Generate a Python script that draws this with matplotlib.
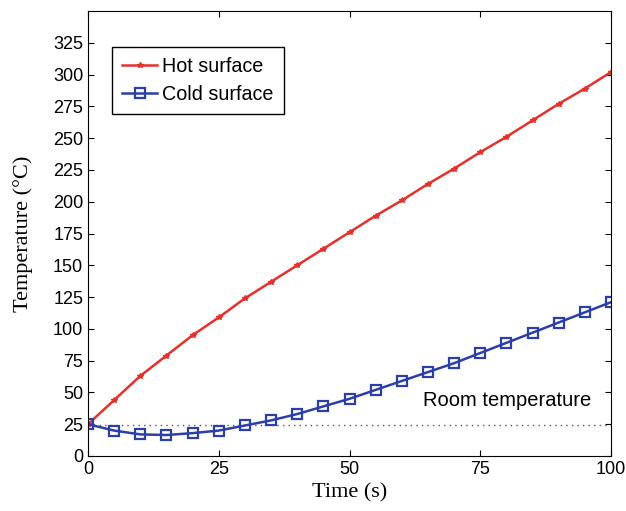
import matplotlib
matplotlib.use("Agg")
import matplotlib.pyplot as plt

time_s = [0, 5, 10, 15, 20, 25, 30, 35, 40, 45, 50, 55, 60, 65, 70, 75, 80, 85, 90, 95, 100]
hot = [25, 44, 63, 79, 95, 109, 124, 137, 150, 163, 176, 189, 201, 214, 226, 239, 251, 264, 277, 289, 302]
cold = [25, 20, 17, 16.5, 18, 20, 24, 28, 33, 39, 45, 52, 59, 66, 73, 81, 89, 97, 105, 113, 121]
room_temp = 24
yticks = list(range(0, 326, 25))
xticks = [0, 25, 50, 75, 100]

fig = plt.figure(figsize=(6.26, 5.11), dpi=100)
ax = fig.add_axes([88/626, 1-456/511, (611-88)/626, (456-11)/511])

ax.plot([0, 100], [room_temp, room_temp], linestyle=(0, (1, 3)), color='#555555', lw=1.0)
ax.plot(time_s, hot, color='#e8302a', lw=1.8, marker='*', ms=4, mfc='#e8302a', mec='#e8302a', label='Hot surface')
ax.plot(time_s, cold, color='#2c3fa8', lw=1.8, marker='s', ms=6.5, mfc='none', mec='#2c3fa8', mew=1.6, label='Cold surface')

ax.set_xlim(0, 100)
ax.set_ylim(0, 350)
ax.set_xticks(xticks)
ax.set_yticks(yticks)
ax.tick_params(direction='in', top=True, right=True, length=4, labelsize=13)
for lab in ax.get_xticklabels() + ax.get_yticklabels():
    lab.set_fontfamily('Liberation Sans')

ax.set_xlabel('Time (s)', fontsize=16, fontfamily='Liberation Serif', labelpad=4)
ax.set_ylabel('Temperature (°C)', fontsize=16, fontfamily='Liberation Serif', labelpad=14)

ax.text(64, 44, 'Room temperature', fontsize=14.5, fontfamily='Liberation Sans', va='center', ha='left')

leg = ax.legend(loc='upper left', bbox_to_anchor=(0.046, 0.919), borderaxespad=0,
                prop={'family': 'Liberation Sans', 'size': 14.2},
                fancybox=False, edgecolor='black', framealpha=1, handlelength=1.8,
                handletextpad=0.25, borderpad=0.5, labelspacing=0.45)
leg.get_frame().set_linewidth(1.0)

fig.savefig('out.png', dpi=100)
